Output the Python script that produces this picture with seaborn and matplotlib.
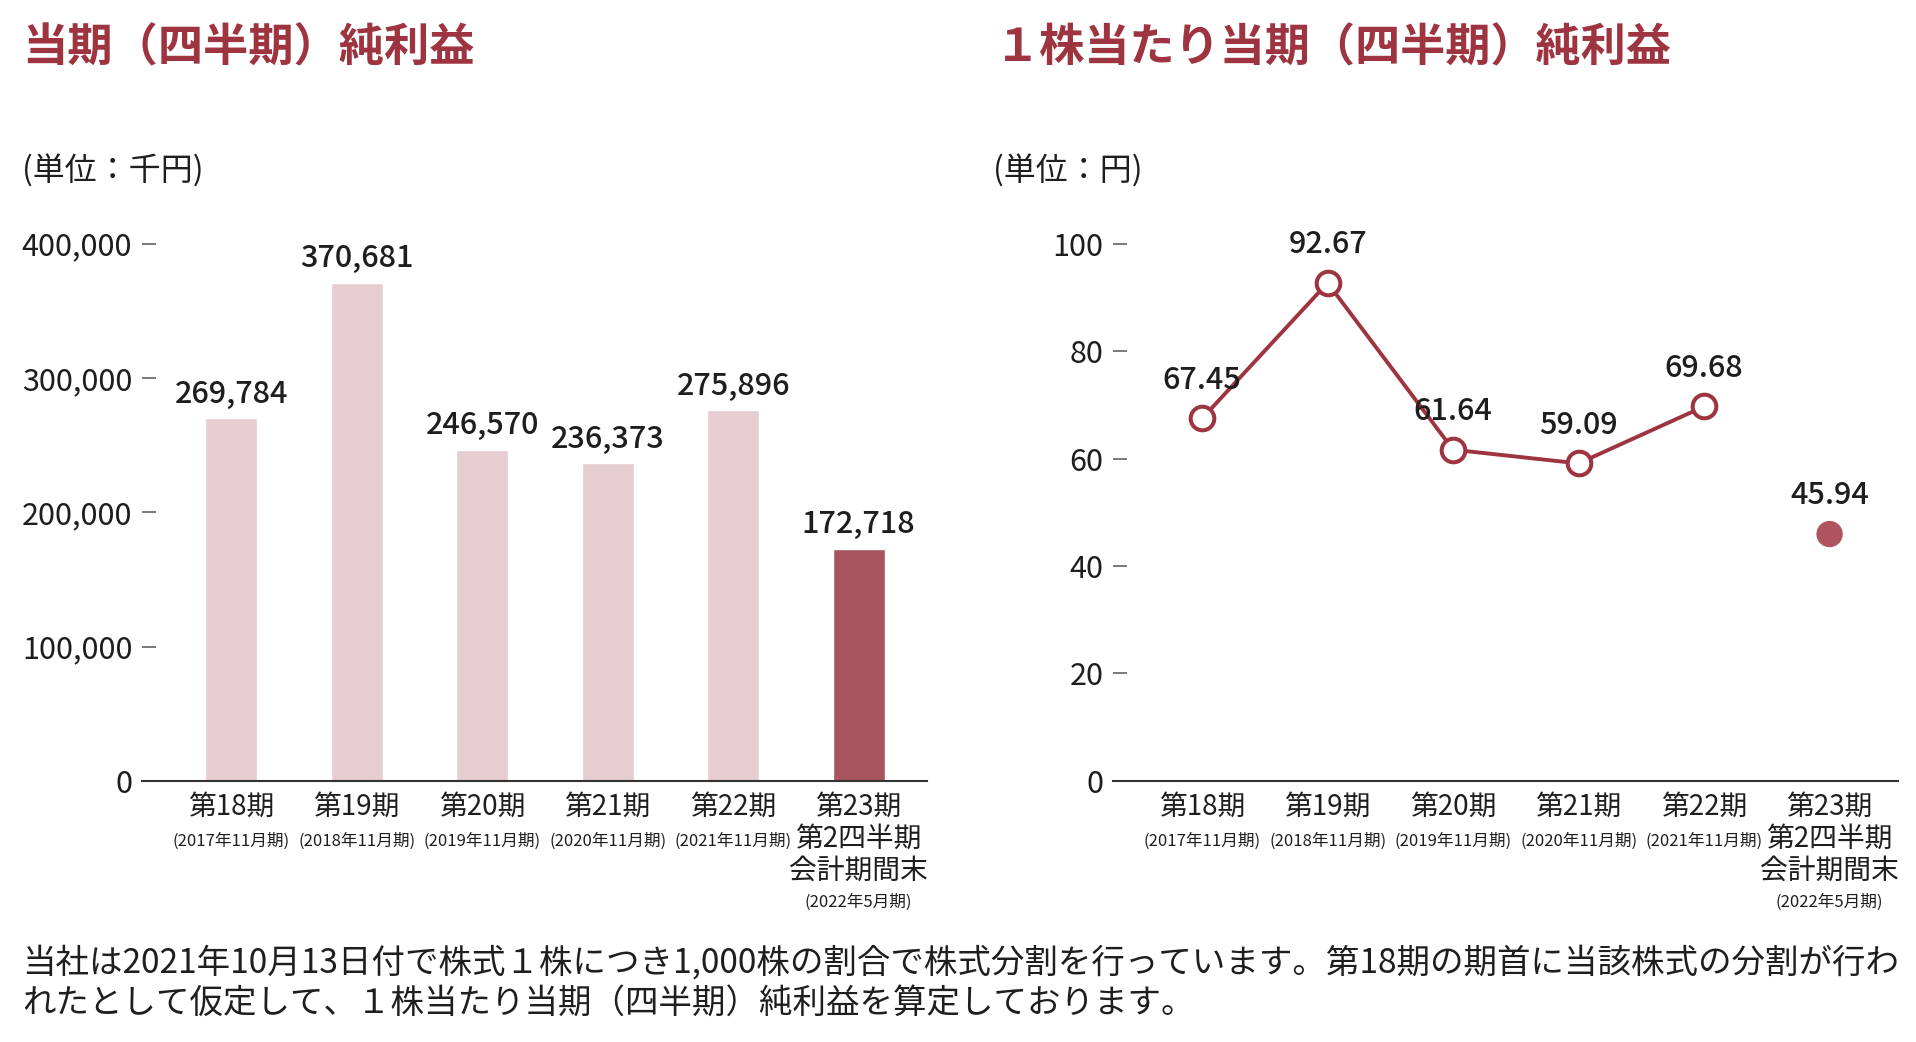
import numpy as np
import seaborn as sns
from matplotlib import pyplot as plt
from matplotlib.ticker import FuncFormatter

periods = ["第18期", "第19期", "第20期", "第21期", "第22期", "第23期\n第2四半期\n会計期間末"]
sub_labels = ["(2017年11月期)", "(2018年11月期)", "(2019年11月期)",
              "(2020年11月期)", "(2021年11月期)", "(2022年5月期)"]
net_income = [269784, 370681, 246570, 236373, 275896, 172718]
eps = [67.45, 92.67, 61.64, 59.09, 69.68, 45.94]

income_ticks = [0, 100000, 200000, 300000, 400000]
eps_ticks = [0, 20, 40, 60, 80, 100]

title_left = "当期（四半期）純利益"
title_right = "１株当たり当期（四半期）純利益"
unit_left = "(単位：千円)"
unit_right = "(単位：円)"
note_1 = "当社は2021年10月13日付で株式１株につき1,000株の割合で株式分割を行っています。第18期の期首に当該株式の分割が行わ"
note_2 = "れたとして仮定して、１株当たり当期（四半期）純利益を算定しております。"

TITLE_C = "#9e3440"
LIGHT = "#e6cdd1"
DARK = "#a8545e"
LINE_C = "#9e3440"
LAST_C = "#b0545f"
TEXT_C = "#1e1e1e"

sns.set_theme(style="white")
plt.rcParams['font.family'] = ['Noto Sans CJK JP', 'DejaVu Sans']

fig = plt.figure(figsize=(19.16, 10.42), dpi=100)
ax1 = fig.add_axes([0.0741, 0.2505, 0.4097, 0.5158])
ax2 = fig.add_axes([0.5809, 0.2505, 0.4097, 0.5158])
x_pos = np.arange(len(periods))


def style_axis(ax):
    sns.despine(ax=ax, left=True)
    ax.spines['bottom'].set_color("#333333")
    ax.spines['bottom'].set_linewidth(1.5)
    ax.tick_params(axis='y', direction='in', length=10, width=1.1, color="#555555",
                   pad=7, labelsize=22, labelcolor=TEXT_C, left=True)
    ax.tick_params(axis='x', length=0, pad=8, labelsize=20, labelcolor=TEXT_C)
    ax.set_xlim(-0.71, 5.545)
    ax.set_xlabel("")
    ax.set_ylabel("")
    ax.set_xticks(x_pos, labels=periods, linespacing=1.07)
    for i, sub in enumerate(sub_labels):
        off = -43.5 if i < 5 else -87.5
        ax.annotate(sub, xy=(x_pos[i], 0), xycoords=('data', 'axes fraction'),
                    xytext=(0, off), textcoords='offset points',
                    ha='center', va='center', fontsize=12, color=TEXT_C)


# left: bar chart
sns.barplot(x=x_pos, y=net_income, hue=x_pos, palette=[LIGHT] * 5 + [DARK],
            width=0.414, saturation=1, legend=False, ax=ax1)
ax1.set_ylim(0, 400000)
ax1.set_yticks(income_ticks)
ax1.yaxis.set_major_formatter(FuncFormatter(lambda v, p: f"{int(v):,}"))
style_axis(ax1)
for i, v in enumerate(net_income):
    ax1.annotate(f"{v:,}", xy=(x_pos[i], v), xytext=(0, 17.5), textcoords='offset points',
                 ha='center', va='center', fontsize=22, fontweight='medium', color=TEXT_C)

# right: line chart
sns.lineplot(x=x_pos[:5], y=eps[:5], color=LINE_C, lw=2.8, marker='o', markersize=17,
             markerfacecolor='white', markeredgecolor=LINE_C, markeredgewidth=2.9,
             ax=ax2, clip_on=False)
sns.scatterplot(x=x_pos[5:], y=eps[5:], color=LAST_C, s=360, edgecolor='none',
                ax=ax2, clip_on=False)
ax2.set_ylim(0, 100)
ax2.set_yticks(eps_ticks)
style_axis(ax2)
for i, v in enumerate(eps):
    ax2.annotate(f"{v:.2f}", xy=(x_pos[i], v), xytext=(0, 27.5), textcoords='offset points',
                 ha='center', va='center', fontsize=22, fontweight='medium', color=TEXT_C)

# titles, units, note
fig.text(22 / 1916, 1 - 48 / 1042, title_left, fontsize=32.6, fontweight='bold',
         color=TITLE_C, va='center', ha='left')
fig.text(995 / 1916, 1 - 48 / 1042, title_right, fontsize=32.5, fontweight='bold',
         color=TITLE_C, va='center', ha='left')
fig.text(22 / 1916, 1 - 171 / 1042, unit_left, fontsize=23, color=TEXT_C, va='center')
fig.text(993 / 1916, 1 - 171 / 1042, unit_right, fontsize=23, color=TEXT_C, va='center')
fig.text(22 / 1916, 1 - 963 / 1042, note_1, fontsize=24.1, color=TEXT_C, va='center')
fig.text(22 / 1916, 1 - 1003 / 1042, note_2, fontsize=24.1, color=TEXT_C, va='center')

fig.savefig("out.png", dpi=100)
